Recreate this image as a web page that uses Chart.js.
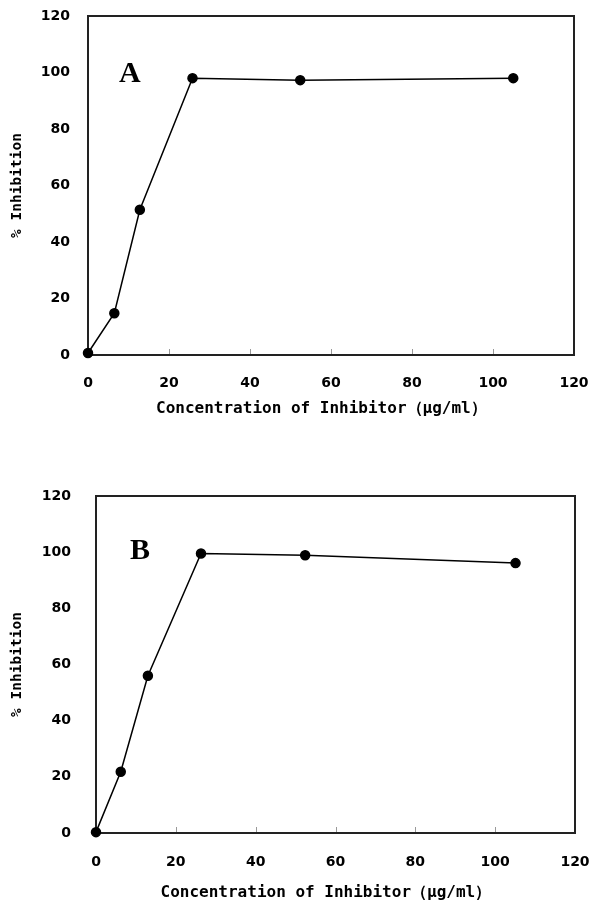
<!DOCTYPE html>
<html lang="en">
<head>
<meta charset="UTF-8">
<title>% Inhibition vs Concentration of Inhibitor</title>
<script src="https://cdn.jsdelivr.net/npm/chart.js"></script>
<style>
  html, body { margin: 0; padding: 0; background: #fff; }
  body { width: 590px; height: 902px; position: relative; overflow: hidden; }
  .panel { position: absolute; left: 0; width: 590px; }
</style>
</head>
<body>
<div class="panel" style="top:0;height:440px"><canvas id="chartA" width="590" height="440"></canvas></div>
<div class="panel" style="top:480px;height:422px"><canvas id="chartB" width="590" height="422"></canvas></div>

<script>
// tick values shared by both panels
const xTicks = [0, 20, 40, 60, 80, 100, 120];
const yTicks = [0, 20, 40, 60, 80, 100, 120];

// panel A
const concA = [0, 6.5, 12.8, 25.8, 52.4, 105];
const inhibA = [0.7, 14.8, 51.4, 98.0, 97.3, 98.0];

// panel B
const concB = [0, 6.2, 13, 26.3, 52.4, 105.1];
const inhibB = [0.3, 21.8, 56.0, 99.5, 98.9, 96.1];

// trailing nbsp nudges the centred title a little to the left, as in the original
const xTitle = 'Concentration of Inhibitor（μg/ml）\u00A0\u00A0';
const yTitle = '% Inhibition';

const FONT = "'DejaVu Sans', sans-serif";
const MONO = "'DejaVu Sans Mono', monospace";

// box around the plot, small inward x ticks and the panel letter
const framePlugin = {
    id: 'frame',
    beforeDatasetsDraw(chart, args, opts) {
        const { ctx, chartArea: a, scales: { x, y } } = chart;
        ctx.save();
        ctx.strokeStyle = '#999';
        ctx.lineWidth = 1;
        x.ticks.forEach(t => {
            const px = Math.round(x.getPixelForValue(t.value)) + 0.5;
            ctx.beginPath();
            ctx.moveTo(px, a.bottom);
            ctx.lineTo(px, a.bottom - 6);
            ctx.stroke();
        });
        ctx.strokeStyle = '#222';
        ctx.lineWidth = 2;
        ctx.strokeRect(a.left, a.top, a.right - a.left, a.bottom - a.top);

        ctx.fillStyle = '#000';
        ctx.font = "bold 30px 'Liberation Serif', serif";
        ctx.textAlign = 'center';
        ctx.textBaseline = 'alphabetic';
        ctx.fillText(opts.letter, x.getPixelForValue(opts.at[0]), y.getPixelForValue(opts.at[1]));
        ctx.restore();
    }
};

// no extra room for overhanging tick labels, the plot box is placed by hand
function noPad(s) {
    s.paddingLeft = 0;
    s.paddingRight = 0;
    s.paddingTop = 0;
    s.paddingBottom = 0;
}

function makeChart(id, xs, ys, p) {
    const points = xs.map((v, i) => ({ x: v, y: ys[i] }));
    return new Chart(document.getElementById(id), {
        type: 'line',
        data: {
            datasets: [{
                data: points,
                borderColor: '#000',
                backgroundColor: '#000',
                borderWidth: 1.5,
                pointRadius: 4.5,
                pointHoverRadius: 4.5,
                tension: 0,
                clip: false
            }]
        },
        options: {
            responsive: false,
            animation: false,
            layout: { padding: { top: 16, right: p.right, bottom: 0, left: 0 } },
            plugins: {
                legend: { display: false },
                tooltip: { enabled: false },
                frame: { letter: p.letter, at: p.letterAt }
            },
            scales: {
                x: {
                    type: 'linear',
                    min: 0,
                    max: 120,
                    afterBuildTicks: s => { s.ticks = xTicks.map(v => ({ value: v })); },
                    afterFit: s => { s.height = p.xHeight; noPad(s); },
                    grid: { display: false, drawTicks: false },
                    border: { display: false },
                    ticks: {
                        padding: p.xPad,
                        color: '#000',
                        maxRotation: 0,
                        font: { family: FONT, size: 14, weight: 'bold' }
                    },
                    title: {
                        display: true,
                        text: xTitle,
                        color: '#000',
                        padding: { top: 0, bottom: p.xTitlePad },
                        font: { family: MONO, size: 16, weight: 'bold' }
                    }
                },
                y: {
                    type: 'linear',
                    min: 0,
                    max: 120,
                    afterBuildTicks: s => { s.ticks = yTicks.map(v => ({ value: v })); },
                    afterFit: s => { s.width = p.yWidth; noPad(s); },
                    grid: { display: false, drawTicks: false },
                    border: { display: false },
                    ticks: {
                        padding: p.yPad,
                        color: '#000',
                        font: { family: FONT, size: 14, weight: 'bold' }
                    },
                    title: {
                        display: true,
                        text: yTitle,
                        color: '#000',
                        padding: { top: 8.5, bottom: 0 },
                        font: { family: MONO, size: 14.5, weight: 'bold' }
                    }
                }
            }
        },
        plugins: [framePlugin]
    });
}

makeChart('chartA', concA, inhibA, {
    letter: 'A', letterAt: [10.3, 96.6],
    right: 16, yWidth: 88, xHeight: 85,
    xPad: 19.6, yPad: 18, xTitlePad: 21.5
});

makeChart('chartB', concB, inhibB, {
    letter: 'B', letterAt: [11, 97.5],
    right: 15, yWidth: 96, xHeight: 69,
    xPad: 21.3, yPad: 25, xTitlePad: 0
});
</script>
</body>
</html>
